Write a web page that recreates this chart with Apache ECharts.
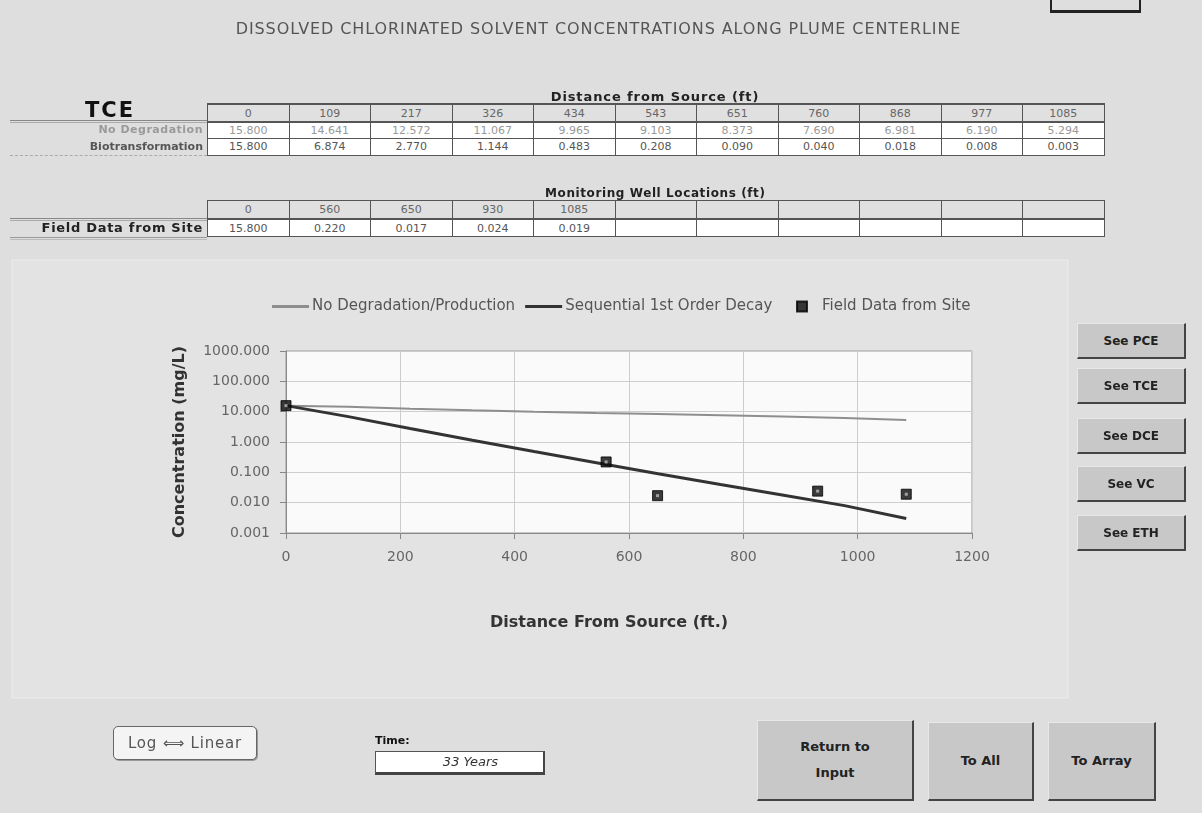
<!DOCTYPE html>
<html><head><meta charset="utf-8">
<script src="https://cdn.jsdelivr.net/npm/echarts@6.0.0/dist/echarts.min.js"></script>
<style>
body{margin:0;width:1202px;height:813px;overflow:hidden;background:#dedede;font-family:"DejaVu Sans",sans-serif;position:relative}
#chart{position:absolute;left:0;top:0;width:1202px;height:813px;z-index:1}
.abs{position:absolute;z-index:2;box-sizing:border-box;white-space:nowrap}
.cell{position:absolute;z-index:2;box-sizing:border-box;border:1px solid #555;text-align:center;font-size:11px;color:#666;white-space:nowrap}
.lbl{position:absolute;z-index:2;font-size:11px;font-weight:bold;text-align:right;white-space:nowrap}
.btn{position:absolute;z-index:2;box-sizing:border-box;background:#c8c8c8;border-top:1px solid #e8e8e8;border-left:1px solid #e8e8e8;border-right:2px solid #444;border-bottom:2px solid #444;font-weight:bold;font-size:12px;color:#222;display:flex;align-items:center;justify-content:center;text-align:center;line-height:26px}
</style>
</head><body>
<div id="chart"></div>
<script>
// ---- data ----
const chemical = "TCE";
const distances = [0, 109, 217, 326, 434, 543, 651, 760, 868, 977, 1085];
const noDegradation = [15.800, 14.641, 12.572, 11.067, 9.965, 9.103, 8.373, 7.690, 6.981, 6.190, 5.294];
const biotransformation = [15.800, 6.874, 2.770, 1.144, 0.483, 0.208, 0.090, 0.040, 0.018, 0.008, 0.003];
const wellLocations = [0, 560, 650, 930, 1085];
const fieldData = [15.800, 0.220, 0.017, 0.024, 0.019];
const seriesNames = ["No Degradation/Production", "Sequential 1st Order Decay", "Field Data from Site"];
const xTicks = [0, 200, 400, 600, 800, 1000, 1200];
const yTicks = [0.001, 0.01, 0.1, 1, 10, 100, 1000];
const timeText = "33 Years";

// ---- layout helpers (HTML around the chart) ----
function add(cls, style, html) {
  const d = document.createElement('div');
  d.className = cls;
  Object.assign(d.style, style);
  if (html !== undefined) d.innerHTML = html;
  document.body.appendChild(d);
  return d;
}
const TL = 207, CW = 81.5, NC = 11;
// title
add('abs', {left:'232px', top:'19px', width:'733px', textAlign:'center', fontSize:'16px', color:'#555', letterSpacing:'0.9px'}, 'DISSOLVED CHLORINATED SOLVENT CONCENTRATIONS ALONG PLUME CENTERLINE');
// top right box
add('abs', {left:'1050px', top:'-4px', width:'91px', height:'17px', border:'2px solid #222', borderBottomWidth:'3px'});
// section headings
add('abs', {left:'545px', top:'89px', width:'220px', textAlign:'center', fontSize:'13px', fontWeight:'bold', color:'#222', letterSpacing:'0.9px'}, 'Distance from Source (ft)');
add('abs', {left:'545px', top:'186px', width:'220px', textAlign:'center', fontSize:'12px', fontWeight:'bold', color:'#222', letterSpacing:'0.6px'}, 'Monitoring Well Locations (ft)');
// left separator lines
add('abs', {left:'10px', top:'120px', width:(TL-10)+'px', height:'3px', borderTop:'1px solid #888', borderBottom:'1px solid #aaa'});
add('abs', {left:'10px', top:'155px', width:(TL-10)+'px', height:'1px', borderTop:'1px dashed #aaa'});
add('abs', {left:'10px', top:'218px', width:(TL-10)+'px', height:'3px', borderTop:'1px solid #888', borderBottom:'1px solid #aaa'});
add('abs', {left:'10px', top:'237px', width:(TL-10)+'px', height:'3px', borderTop:'1px solid #999', borderBottom:'1px solid #bbb'});
// labels
add('lbl', {left:'50px', top:'98px', width:'120px', textAlign:'center', fontSize:'21px', color:'#111', letterSpacing:'2px'}, chemical);
add('lbl', {left:'0px', top:'123px', width:'203px', color:'#9a9a9a', letterSpacing:'0.5px'}, 'No Degradation');
add('lbl', {left:'0px', top:'140px', width:'203px', color:'#555'}, 'Biotransformation');
add('lbl', {left:'0px', top:'220px', width:'203px', color:'#222', fontSize:'13px', letterSpacing:'0.7px'}, 'Field Data from Site');

function row(top, h, values, bg, color, fmt, thickTop) {
  for (let i = 0; i < NC; i++) {
    const v = values[i];
    add('cell', {left:(TL + i*CW)+'px', top:top+'px', width:(CW+1)+'px', height:(h+1)+'px', lineHeight:(h-1)+'px', background:bg, color:color,
      borderTopWidth: thickTop ? '2px' : '1px'}, v === undefined ? '' : fmt(v));
  }
}
const f3 = v => v.toFixed(3);
const f0 = v => String(v);
row(103, 18, distances, '#e0e0e0', '#666', f0, true);
row(121, 17, noDegradation, '#fff', '#999', f3, true);
row(138, 17, biotransformation, '#fff', '#555', f3, false);
row(200, 18, wellLocations, '#e0e0e0', '#666', f0, false);
row(218, 18, fieldData, '#fff', '#555', f3, true);

// right buttons
const sideBtns = ['See PCE', 'See TCE', 'See DCE', 'See VC', 'See ETH'];
const sideTops = [323, 368, 418, 466, 515];
sideBtns.forEach((t, i) => add('btn', {left:'1077px', top:sideTops[i]+'px', width:'109px', height:'36px'}, t));
// bottom controls
add('abs', {left:'113px', top:'726px', width:'144px', height:'34px', background:'#f4f4f4', border:'1px solid #666', borderRadius:'5px', boxShadow:'1px 1px 0 #999', fontSize:'15px', color:'#555', display:'flex', alignItems:'center', justifyContent:'center', letterSpacing:'0.8px'}, 'Log &#10234; Linear');
add('abs', {left:'375px', top:'734px', fontSize:'11px', fontWeight:'bold', color:'#111'}, 'Time:');
add('abs', {left:'375px', top:'751px', width:'170px', height:'24px', background:'#fff', border:'1px solid #555', borderBottom:'3px solid #444', borderRight:'2px solid #444', fontSize:'13px', fontStyle:'italic', color:'#333', textAlign:'center', lineHeight:'20px', paddingLeft:'22px'}, timeText);
add('btn', {left:'757px', top:'720px', width:'157px', height:'81px', fontSize:'13px'}, 'Return to<br>Input');
add('btn', {left:'928px', top:'722px', width:'106px', height:'79px', fontSize:'13px'}, 'To All');
add('btn', {left:'1048px', top:'722px', width:'108px', height:'79px', fontSize:'13px'}, 'To Array');

// ---- chart ----
const chart = echarts.init(document.getElementById('chart'), null, {renderer:'canvas'});
const FONT = 'DejaVu Sans';
chart.setOption({
  backgroundColor: '#dedede',
  animation: false,
  graphic: [{
    type: 'rect', z: -10, silent: true,
    shape: {x: 12, y: 260, width: 1056, height: 438},
    style: {fill: '#e3e3e3', stroke: '#ececec', lineWidth: 1}
  }],
  legend: [{
    data: [{name: seriesNames[0], icon: 'rect'}, {name: seriesNames[1], icon: 'rect'}],
    left: 272, top: 299, padding: 0,
    itemWidth: 37, itemHeight: 3, itemGap: 10,
    textStyle: {fontFamily: FONT, fontSize: 15, color: '#555', padding: [0, 0, 0, -2]}
  }, {
    data: [{name: seriesNames[2], icon: 'rect'}],
    left: 796, top: 299, padding: 0,
    itemWidth: 10, itemHeight: 10,
    textStyle: {fontFamily: FONT, fontSize: 15, color: '#555', padding: [0, 0, 0, 10]}
  }],
  grid: {
    left: 286, top: 351, width: 686, height: 182,
    show: true, backgroundColor: '#fafafa', borderColor: '#999', borderWidth: 1,
    containLabel: false
  },
  xAxis: {
    type: 'value', min: xTicks[0], max: xTicks[xTicks.length - 1], interval: 200,
    name: 'Distance From Source (ft.)', nameLocation: 'middle', nameGap: 82,
    nameTextStyle: {fontFamily: FONT, fontSize: 16, fontWeight: 'bold', color: '#333', padding: [0, 40, 0, 0]},
    axisLine: {lineStyle: {color: '#888'}},
    axisTick: {show: true, inside: false, length: 6, lineStyle: {color: '#888'}},
    axisLabel: {fontFamily: FONT, fontSize: 14, color: '#666', margin: 17, formatter: v => String(v)},
    splitLine: {show: true, lineStyle: {color: '#cdcdcd'}}
  },
  yAxis: {
    type: 'log', logBase: 10, min: yTicks[0], max: yTicks[yTicks.length - 1], interval: 1,
    name: 'Concentration (mg/L)', nameLocation: 'middle', nameGap: 98,
    nameTextStyle: {fontFamily: FONT, fontSize: 16, fontWeight: 'bold', color: '#333'},
    axisLine: {show: true, lineStyle: {color: '#888'}},
    axisTick: {show: true, inside: false, length: 6, lineStyle: {color: '#888'}},
    axisLabel: {fontFamily: FONT, fontSize: 14, color: '#666', margin: 16,
      formatter: v => Number(v).toFixed(3)},
    splitLine: {show: true, lineStyle: {color: '#cdcdcd'}}
  },
  series: [{
    name: seriesNames[0], type: 'line', symbol: 'none',
    data: distances.map((d, i) => [d, noDegradation[i]]),
    lineStyle: {color: '#8e8e8e', width: 2}, itemStyle: {color: '#8e8e8e'}
  }, {
    name: seriesNames[1], type: 'line', symbol: 'none',
    data: distances.map((d, i) => [d, biotransformation[i]]),
    lineStyle: {color: '#333', width: 3}, itemStyle: {color: '#333'}
  }, {
    name: seriesNames[2], type: 'scatter', symbol: 'rect', symbolSize: 10, z: 5,
    data: wellLocations.map((d, i) => [d, fieldData[i]]),
    itemStyle: {color: '#0a0a0a', borderColor: '#000', borderWidth: 1}
  }, {
    name: 'markerCenter', type: 'scatter', symbol: 'rect', symbolSize: 3, z: 6, silent: true,
    data: wellLocations.map((d, i) => [d, fieldData[i]]),
    itemStyle: {color: '#bbb'}
  }]
});
</script>
</body></html>
